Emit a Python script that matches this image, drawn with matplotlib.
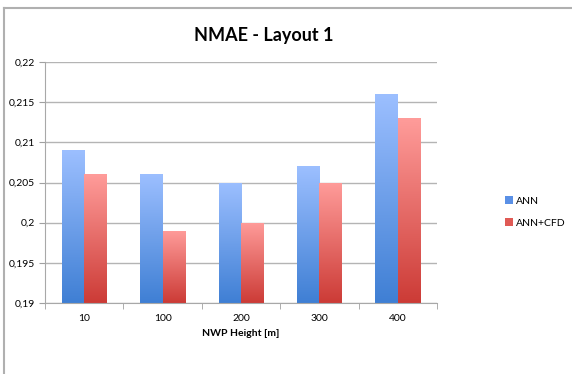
import numpy as np
import matplotlib.pyplot as plt
from matplotlib.colors import LinearSegmentedColormap
from matplotlib.lines import Line2D
from matplotlib.patches import Patch

# data
heights = ["10", "100", "200", "300", "400"]
ann = [0.209, 0.206, 0.205, 0.207, 0.216]
ann_cfd = [0.206, 0.199, 0.200, 0.205, 0.213]
yticks = [0.19, 0.195, 0.2, 0.205, 0.21, 0.215, 0.22]
ytick_labels = ["0,19", "0,195", "0,2", "0,205", "0,21", "0,215", "0,22"]

blue_cmap = LinearSegmentedColormap.from_list("b", ["#3f7fd4", "#9cbfff"])
red_cmap = LinearSegmentedColormap.from_list("r", ["#cc3b36", "#ff9c9a"])

plt.rcParams['font.family'] = ['Lato', 'DejaVu Sans']

fig = plt.figure(figsize=(5.72, 3.74), dpi=100)
ax = fig.add_axes([45 / 572, 1 - 303 / 374, 392 / 572, 241 / 374])

x = np.arange(len(heights))
w = 0.285
ymin, ymax = 0.19, 0.22
grad = np.linspace(0, 1, 256).reshape(-1, 1)


def gradient_bars(xs, vals, cmap):
    bars = ax.bar(xs, [v - ymin for v in vals], w, bottom=ymin, color='none', zorder=2)
    for b in bars:
        x0, y0 = b.get_x(), b.get_y()
        im = ax.imshow(grad, extent=(x0, x0 + b.get_width(), y0, y0 + b.get_height()),
                       origin='lower', cmap=cmap, aspect='auto', zorder=2)
        im.set_clip_path(b)
    return bars


gradient_bars(x - w / 2, ann, blue_cmap)
gradient_bars(x + w / 2, ann_cfd, red_cmap)

ax.set_xlim(-0.5, len(heights) - 0.5)
ax.set_ylim(ymin, ymax)
ax.set_yticks(yticks)
ax.set_yticklabels(ytick_labels, fontsize=7.5)
ax.set_xticks(x)
ax.set_xticklabels(heights, fontsize=7.5)
ax.tick_params(axis='x', length=0, pad=8)
ax.set_xticks(np.arange(-0.5, len(heights)), minor=True)
ax.tick_params(axis='x', which='minor', length=4, color='#a0a0a0', direction='out')
ax.tick_params(axis='y', length=4, color='#a0a0a0', pad=3)
ax.grid(axis='y', color='#b4b4b4', linewidth=1.0, zorder=0)
ax.set_axisbelow(True)
for s in ['top', 'right']:
    ax.spines[s].set_visible(False)
for s in ['left', 'bottom']:
    ax.spines[s].set_color('#a8a8a8')
ax.set_xlabel("NWP Height [m]", fontsize=7.5, fontweight='bold', labelpad=4)

fig.text(264 / 572, 1 - 35 / 374, "NMAE - Layout 1", ha='center', va='center',
         fontsize=13, fontweight='bold')

handles = [Patch(facecolor='#5a90e6', label='ANN'), Patch(facecolor='#e05a55', label='ANN+CFD')]
fig.legend(handles=handles, loc='center left', bbox_to_anchor=(496 / 572, 1 - 212 / 374),
           frameon=False, fontsize=7.5, handlelength=0.7, handleheight=0.7, handletextpad=0.3,
           labelspacing=1.2)

# outer chart frame
fig.add_artist(Line2D([4 / 572, 4 / 572], [0, 1 - 7.5 / 374], color='#b0b0b0', linewidth=1.5))
fig.add_artist(Line2D([4 / 572, 1], [1 - 7.5 / 374, 1 - 7.5 / 374], color='#b0b0b0', linewidth=1.5))

fig.savefig("out.png", dpi=100)
